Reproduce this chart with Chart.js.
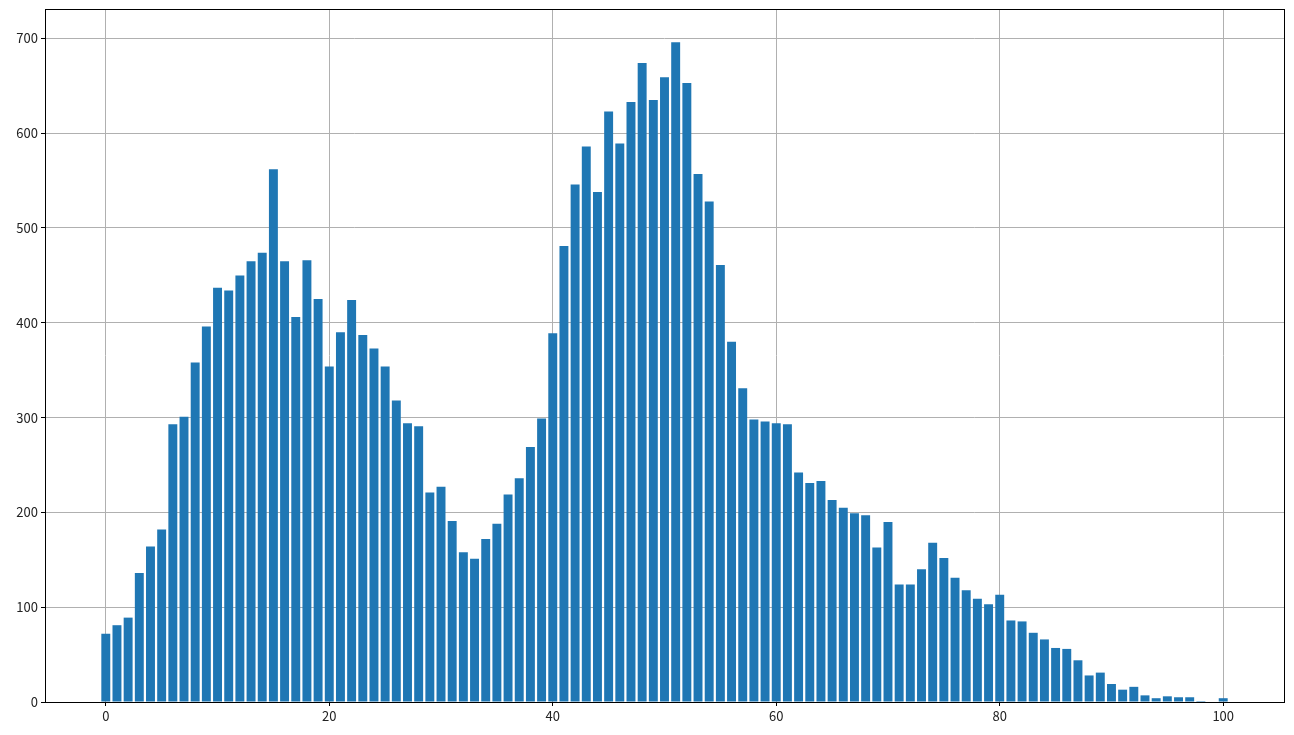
<!DOCTYPE html>
<html>
<head>
<meta charset="utf-8">
<script src="https://cdn.jsdelivr.net/npm/chart.js@4"></script>
<style>
  html, body { margin: 0; padding: 0; background: #fff; }
  #wrap { width: 1294px; height: 735px; position: relative; }
</style>
</head>
<body>
<div id="wrap"><canvas id="myChart"></canvas></div>
<script>
// bin positions and counts
const bins = [0, 1, 2, 3, 4, 5, 6, 7, 8, 9, 10, 11, 12, 13, 14, 15, 16, 17, 18, 19,
  20, 21, 22, 23, 24, 25, 26, 27, 28, 29, 30, 31, 32, 33, 34, 35, 36, 37, 38, 39,
  40, 41, 42, 43, 44, 45, 46, 47, 48, 49, 50, 51, 52, 53, 54, 55, 56, 57, 58, 59,
  60, 61, 62, 63, 64, 65, 66, 67, 68, 69, 70, 71, 72, 73, 74, 75, 76, 77, 78, 79,
  80, 81, 82, 83, 84, 85, 86, 87, 88, 89, 90, 91, 92, 93, 94, 95, 96, 97, 98, 99, 100];
const counts = [72, 81, 89, 136, 164, 182, 293, 301, 358, 396, 437, 434, 450, 465, 474, 562, 465, 406, 466, 425,
  354, 390, 424, 387, 373, 354, 318, 294, 291, 221, 227, 191, 158, 151, 172, 188, 219, 236, 269, 299,
  389, 481, 546, 586, 538, 623, 589, 633, 674, 635, 659, 696, 653, 557, 528, 461, 380, 331, 298, 296,
  294, 293, 242, 231, 233, 213, 205, 199, 197, 163, 190, 124, 124, 140, 168, 152, 131, 118, 109, 103,
  113, 86, 85, 73, 66, 57, 56, 44, 28, 31, 19, 13, 16, 7, 4, 6, 5, 5, 1, 0, 4];
const xTicks = [0, 20, 40, 60, 80, 100];
const yTicks = [0, 100, 200, 300, 400, 500, 600, 700];

const tickFont = { family: "'Noto Sans CJK KR', 'Noto Sans', sans-serif", size: 13 };

// matplotlib-style box around the plot
const frame = {
  id: 'frame',
  afterDraw(chart) {
    const a = chart.chartArea;
    const ctx = chart.ctx;
    ctx.save();
    ctx.strokeStyle = '#000';
    ctx.lineWidth = 1;
    ctx.strokeRect(Math.round(a.left) + 0.5, Math.round(a.top) + 0.5,
      Math.round(a.right - a.left), Math.round(a.bottom - a.top));
    ctx.restore();
  }
};

const data = {
  datasets: [{
    data: bins.map((b, i) => ({ x: b, y: counts[i] })),
    backgroundColor: '#1f77b4',
    borderWidth: 0,
    barPercentage: 0.8,
    categoryPercentage: 1.0
  }]
};

const config = {
  type: 'bar',
  data: data,
  plugins: [frame],
  options: {
    responsive: true,
    maintainAspectRatio: false,
    animation: false,
    layout: { padding: { left: 0, top: 9, right: 10, bottom: 0 } },
    plugins: { legend: { display: false }, tooltip: { enabled: false } },
    scales: {
      x: {
        type: 'linear',
        min: -5.44,
        max: 105.44,
        offset: false,
        z: 1,
        afterBuildTicks: s => { s.ticks = xTicks.map(v => ({ value: v })); },
        afterFit: s => { s.height = 33; s.paddingLeft = 0; s.paddingRight = 0; },
        grid: { offset: false, color: '#b0b0b0', lineWidth: 1, tickLength: 4, tickColor: '#000', tickWidth: 1 },
        border: { display: false },
        ticks: { color: '#222', font: tickFont, padding: 2, maxRotation: 0 }
      },
      y: {
        min: 0,
        max: 731,
        z: 1,
        afterBuildTicks: s => { s.ticks = yTicks.map(v => ({ value: v })); },
        afterFit: s => { s.width = 45; s.paddingTop = 0; s.paddingBottom = 0; },
        grid: { color: '#b0b0b0', lineWidth: 1, tickLength: 4, tickColor: '#000', tickWidth: 1 },
        border: { display: false },
        ticks: { color: '#222', font: tickFont, padding: 3 }
      }
    }
  }
};

const myChart = new Chart(document.getElementById('myChart'), config);
</script>
</body>
</html>
